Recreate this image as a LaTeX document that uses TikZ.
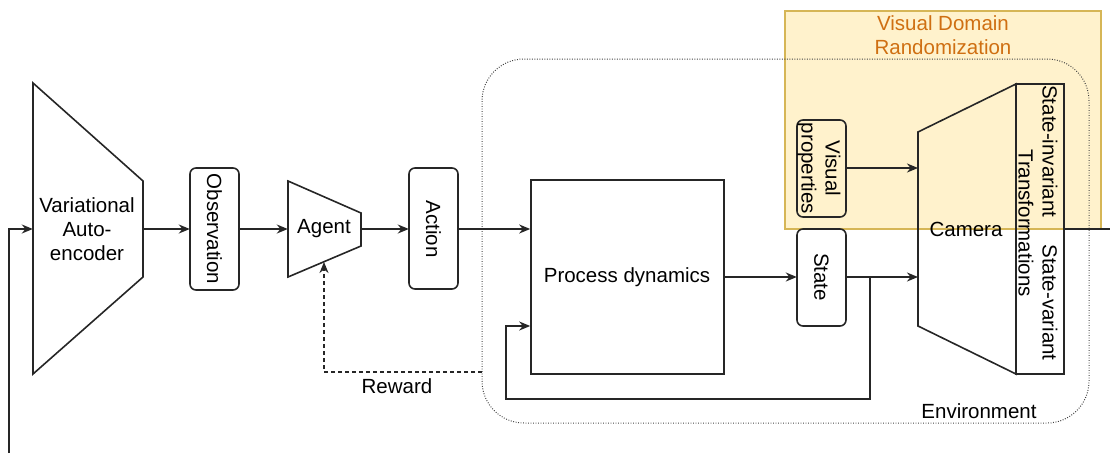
\documentclass[tikz,border=0pt]{standalone}
\usepackage{fontspec}
\setmainfont{Liberation Sans}
\usetikzlibrary{arrows.meta}

\definecolor{vdrfill}{HTML}{FFF2CC}
\definecolor{vdrline}{HTML}{D6B656}
\definecolor{vdrtext}{HTML}{CF6F12}

\tikzset{
  base/.style={line width=1.6pt, draw=black!85},
  flow/.style={base, -{Stealth[length=11pt, width=9pt, inset=3.5pt]}},
  rewardline/.style={flow, dashed, dash pattern=on 4pt off 3pt},
  pill/.style={base, rounded corners=6pt},
  lbl/.style={font=\fontsize{20.5pt}{24pt}\selectfont, align=center, inner sep=0pt},
  vlbl/.style={lbl, rotate=-90},
  envline/.style={line width=1pt, draw=black!75, dash pattern=on 0.9pt off 1.6pt, rounded corners=42pt},
}

\begin{document}
\begin{tikzpicture}[x=1pt, y=-1pt]
\useasboundingbox (0,0) rectangle (1110,453);

% Visual domain randomization region
\filldraw[fill=vdrfill, draw=vdrline, line width=1.2pt] (785,11) rectangle (1101,229);
\node[lbl, text=vdrtext] (vdrtitle) at (943,35) {Visual Domain\\Randomization};

% Environment boundary
\draw[envline] (482,59) rectangle (1089,423);
\node[lbl] (envlabel) at (979,411) {Environment};

% Variational auto-encoder (trapezoid)
\draw[base] (33,83) -- (143,181) -- (143,277) -- (33,374) -- cycle;
\node[inner sep=0pt, minimum width=110pt, minimum height=290pt] (vae) at (88,229) {};
\node[lbl] (vaetext) at (87,229) {Variational\\Auto-\\encoder};

% Observation
\draw[pill] (190,168) rectangle (239,290);
\node[inner sep=0pt, minimum width=49pt, minimum height=122pt] (obs) at (214.5,229) {};
\node[vlbl] at (obs.center) {Observation};

% Agent (trapezoid)
\draw[base] (288,181) -- (361,213) -- (361,246) -- (288,277) -- cycle;
\node[inner sep=0pt, minimum width=73pt, minimum height=96pt] (agent) at (324.5,229) {};
\node[lbl] at (324,229) {Agent};
\coordinate (agentbottom) at (324,262);

% Action
\draw[pill] (409,168) rectangle (458,289);
\node[inner sep=0pt, minimum width=49pt, minimum height=122pt] (action) at (433.5,229) {};
\node[vlbl] at (action.center) {Action};

% Process dynamics
\node[base, draw, inner sep=0pt, minimum width=193pt, minimum height=194pt] (proc) at (627.5,277) {};
\node[lbl] at (627,277) {Process dynamics};

% Visual properties
\draw[pill] (797,120) rectangle (846,217);
\node[inner sep=0pt, minimum width=49pt, minimum height=96pt] (visprop) at (821.5,168) {};
\node[vlbl] at (819,168.5) {Visual\\properties};

% State
\draw[pill] (797,229) rectangle (846,326);
\node[inner sep=0pt, minimum width=49pt, minimum height=96pt] (state) at (821.5,277) {};
\node[vlbl] at (state.center) {State};

% Camera (trapezoid) with the transformations panel
\draw[base] (918,132) -- (1016,84) -- (1016,374) -- (918,326) -- cycle;
\node[lbl] (camera) at (966,229) {Camera};
\coordinate (camin1) at (918,168);
\coordinate (camin2) at (918,277);
\node[base, draw, inner sep=0pt, minimum width=48pt, minimum height=290pt] (trans) at (1040,229) {};
\node[vlbl] at (1038,223) {State-invariant\hspace{27pt}State-variant\\Transformations};
\coordinate (outend) at (1110,229);

% Loop-back input to the auto-encoder
\coordinate (loopstart) at (9,453);
\draw[flow] (loopstart) |- (vae.west);

% Main signal chain
\draw[flow] (vae.east) -- (obs.west);
\draw[flow] (obs.east) -- (agent.west);
\draw[flow] (agent.east) -- (action.west);
\draw[flow] (action.east) -- (proc.west |- action.east);
\draw[flow] (proc.east) -- (state.west);
\draw[flow] (state.east) -- (camin2);
\draw[flow] (visprop.east) -- (camin1);
\draw[base] (trans.east) -- (outend);

% State feedback into the process dynamics
\coordinate (fbcorner) at (870,399);
\draw[flow] (870,277) -- (fbcorner) -| (506,326) -- (proc.west |- 506,326);

% Reward signal
\coordinate (rewardstart) at (482,372);
\draw[rewardline] (rewardstart) -| (agentbottom);
\node[lbl] (reward) at (397,386) {Reward};
\end{tikzpicture}
\end{document}
